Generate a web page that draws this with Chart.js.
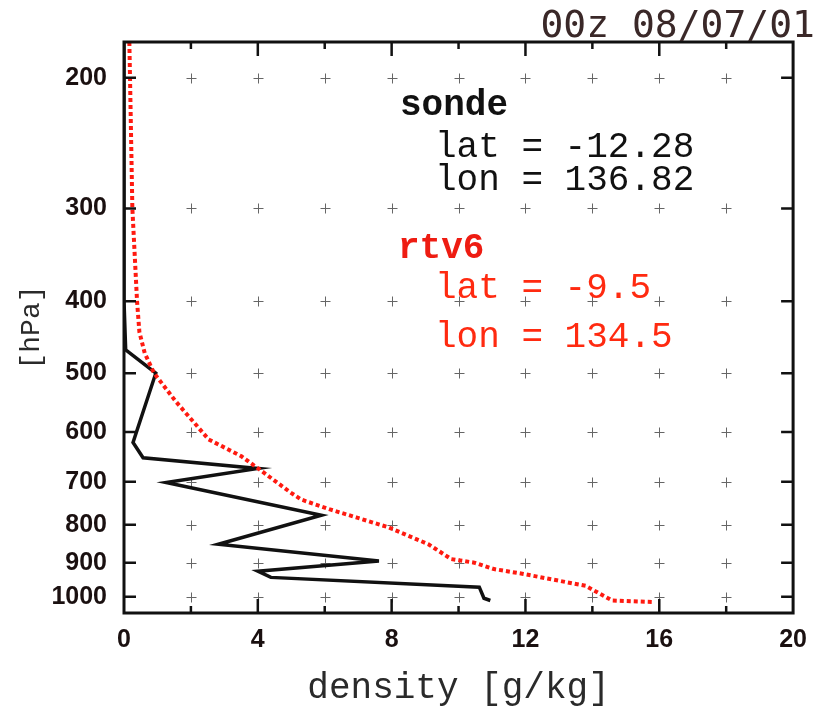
<!DOCTYPE html>
<html>
<head>
<meta charset="utf-8">
<script src="https://cdn.jsdelivr.net/npm/chart.js@4.4.1/dist/chart.umd.min.js"></script>
<style>
    html, body { margin: 0; padding: 0; background: #fff; }
    #wrap { width: 819px; height: 710px; }
</style>
</head>
<body>
<div id="wrap"><canvas id="profileChart" width="819" height="710"></canvas></div>
<script>
// pressure levels that get a label on the y axis
const pressureTicks = [200, 300, 400, 500, 600, 700, 800, 900, 1000];
// density grid steps (labels only on every 4)
const densitySteps = [2, 4, 6, 8, 10, 12, 14, 16, 18];

// sonde profile
const sondePressure = [179, 300, 400, 465, 500, 620, 650, 672, 702, 777, 850, 895, 924, 942, 971, 1005, 1012];
const sondeDensity = [0.0, 0.0, 0.0, 0.05, 0.95, 0.27, 0.57, 4.0, 1.26, 5.9, 2.82, 7.62, 4.0, 4.39, 10.62, 10.76, 10.95];

// rtv6 retrieval
const rtvPressure = [179, 200, 300, 400, 440, 470, 500, 546, 614, 647, 674, 724, 740, 763, 782, 807, 850, 890, 900, 918, 932, 967, 1012, 1017];
const rtvDensity = [0.16, 0.18, 0.25, 0.39, 0.46, 0.62, 0.9, 1.55, 2.53, 3.51, 4.05, 4.98, 5.3, 6.16, 6.94, 7.92, 9.1, 9.78, 10.47, 11.06, 11.94, 13.8, 14.59, 15.86];

const toPoints = (xs, ps) => xs.map((x, i) => ({ x: x, y: ps[i] }));

const MONO = "'Liberation Mono', 'DejaVu Sans Mono', monospace";
const SANS = "'Liberation Sans', Arial, sans-serif";

const framePlugin = {
    id: "frame",
    beforeDatasetsDraw(chart) {
        const { ctx, scales } = chart;
        const x = scales.x;
        const y = scales.y;
        ctx.save();
        ctx.strokeStyle = "#666";
        ctx.lineWidth = 1;
        densitySteps.forEach((d) => {
            const px = Math.round(x.getPixelForValue(d)) + 0.5;
            pressureTicks.forEach((p) => {
                const py = Math.round(y.getPixelForValue(p)) + 0.5;
                ctx.beginPath();
                ctx.moveTo(px - 5, py);
                ctx.lineTo(px + 5, py);
                ctx.moveTo(px, py - 5);
                ctx.lineTo(px, py + 5);
                ctx.stroke();
            });
        });
        ctx.restore();
    },
    afterDatasetsDraw(chart) {
        const { ctx, chartArea: a, scales } = chart;
        const x = scales.x;
        const y = scales.y;
        ctx.save();
        ctx.strokeStyle = "#111";
        ctx.lineWidth = 2.5;
        ctx.beginPath();
        pressureTicks.forEach((p) => {
            const py = y.getPixelForValue(p);
            ctx.moveTo(a.left, py);
            ctx.lineTo(a.left + 12, py);
            ctx.moveTo(a.right, py);
            ctx.lineTo(a.right - 12, py);
        });
        densitySteps.forEach((d) => {
            const px = x.getPixelForValue(d);
            const len = d % 4 === 0 ? 14 : 7;
            ctx.moveTo(px, a.bottom);
            ctx.lineTo(px, a.bottom - len);
            ctx.moveTo(px, a.top);
            ctx.lineTo(px, a.top + len);
        });
        ctx.stroke();

        ctx.lineWidth = 3;
        ctx.strokeRect(a.left, a.top, a.right - a.left, a.bottom - a.top);

        // legend-like annotations
        ctx.textBaseline = "alphabetic";
        ctx.textAlign = "left";
        ctx.fillStyle = "#111";
        ctx.font = "bold 36px " + MONO;
        ctx.fillText("sonde", 400, 115);
        ctx.font = "36px " + MONO;
        ctx.fillText("lat = -12.28", 435, 157);
        ctx.fillText("lon = 136.82", 435, 190);
        ctx.fillStyle = "#ee1c12";
        ctx.font = "bold 36px " + MONO;
        ctx.fillText("rtv6", 398, 258);
        ctx.fillStyle = "#ff2a10";
        ctx.font = "36px " + MONO;
        ctx.fillText("lat = -9.5", 435, 298);
        ctx.fillText("lon = 134.5", 435, 347);

        ctx.fillStyle = "#3a2828";
        ctx.textAlign = "right";
        ctx.font = "38px 'DejaVu Sans Mono', monospace";
        ctx.fillText("00z 08/07/01", 815, 37);
        ctx.restore();
    }
};

new Chart(document.getElementById("profileChart"), {
    type: "scatter",
    data: {
        datasets: [
            {
                label: "rtv6",
                data: toPoints(rtvDensity, rtvPressure),
                showLine: true,
                borderColor: "#ff1a10",
                borderWidth: 4,
                borderDash: [4, 3],
                pointRadius: 0,
                tension: 0,
            },
            {
                label: "sonde",
                data: toPoints(sondeDensity, sondePressure),
                showLine: true,
                borderColor: "#111",
                borderWidth: 3.5,
                pointRadius: 0,
                tension: 0,
            },
        ],
    },
    options: {
        responsive: false,
        animation: false,
        devicePixelRatio: 1,
        layout: { padding: { top: 42, right: 15, left: 0, bottom: 0 } },
        plugins: {
            legend: { display: false },
            tooltip: { enabled: false },
        },
        scales: {
            x: {
                type: "linear",
                min: 0,
                max: 20,
                grid: { display: false, drawTicks: false },
                border: { display: false },
                ticks: {
                    stepSize: 4,
                    padding: 12,
                    color: "#1a1010",
                    font: { family: SANS, size: 25, weight: "bold" },
                },
                title: {
                    display: true,
                    text: "density [g/kg]",
                    color: "#2a2a2a",
                    padding: 0,
                    font: { family: MONO, size: 36 },
                },
                afterFit(scale) {
                    scale.height = 97;
                },
            },
            y: {
                type: "logarithmic",
                reverse: true,
                min: 179,
                max: 1052,
                grid: { display: false, drawTicks: false },
                border: { display: false },
                afterBuildTicks(scale) {
                    scale.ticks = pressureTicks.map((v) => ({ value: v }));
                },
                ticks: {
                    padding: 17,
                    color: "#1a1010",
                    font: { family: SANS, size: 25, weight: "bold" },
                    callback: (v) => String(v),
                },
                title: {
                    display: true,
                    text: "[hPa]",
                    color: "#2a2a2a",
                    padding: 15,
                    font: { family: MONO, size: 28 },
                },
                afterFit(scale) {
                    scale.width = 124;
                },
            },
        },
    },
    plugins: [framePlugin],
});
</script>
</body>
</html>
